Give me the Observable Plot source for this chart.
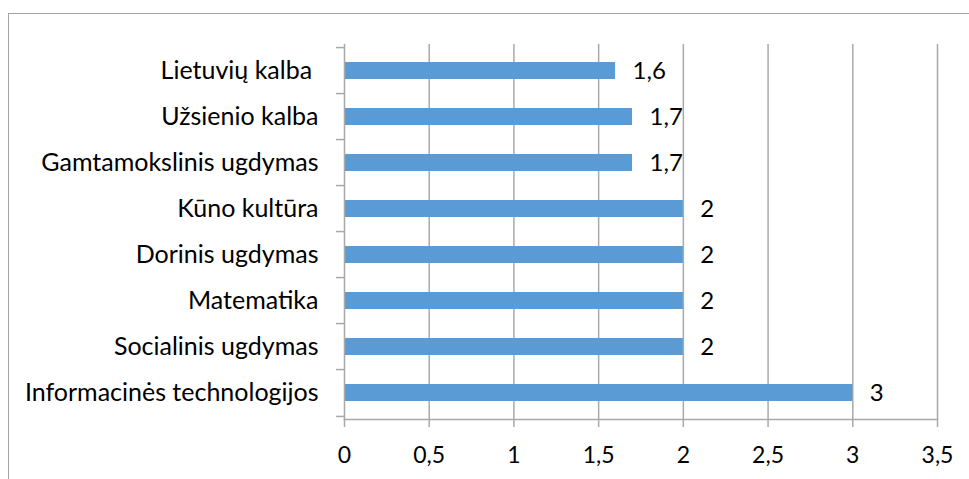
<!DOCTYPE html>
<html>
<head>
<meta charset="utf-8">
<script src="https://cdn.jsdelivr.net/npm/d3@7"></script>
<script src="https://cdn.jsdelivr.net/npm/@observablehq/plot@0.6"></script>
<style>
  html, body { margin: 0; padding: 0; background: #fff; overflow: hidden; }
  #wrap { position: relative; width: 969px; height: 479px; overflow: hidden; }
  #border { position: absolute; left: 8px; top: 13px; width: 1000px; height: 520px; border: 1.5px solid #a3a3a3; box-sizing: border-box; }
  #chart { position: absolute; left: 0; top: 0; }
  #chart text { white-space: pre; }
</style>
</head>
<body>
<div id="wrap"><div id="border"></div><div id="chart"></div></div>
<script>
const categories = [
  "Lietuvių kalba ",
  "Užsienio kalba",
  "Gamtamokslinis ugdymas",
  "Kūno kultūra",
  "Dorinis ugdymas",
  "Matematika",
  "Socialinis ugdymas",
  "Informacinės technologijos"
];
const values = [1.6, 1.7, 1.7, 2, 2, 2, 2, 3];
const xTicks = [0, 0.5, 1, 1.5, 2, 2.5, 3, 3.5];

const data = categories.map((c, i) => ({category: c, value: values[i]}));
const fmt = d => String(d).replace(".", ",");

const W = 969, H = 479;
const mTop = 44, mBottom = 60, mLeft = 344, mRight = 32;
const step = (H - mTop - mBottom) / categories.length;
const gridColor = "#a9a9a9";
const font = "Lato, 'Open Sans', sans-serif";
const fsCat = 25, fsTick = 23, fsVal = 24;

const chart = Plot.plot({
  width: W,
  height: H,
  marginTop: mTop,
  marginBottom: mBottom,
  marginLeft: mLeft,
  marginRight: mRight,
  style: {fontFamily: font, fontSize: fsTick + "px", color: "#000", background: "transparent"},
  x: {domain: [0, 3.5]},
  y: {domain: categories, paddingInner: 0.62, paddingOuter: 0.31},
  marks: [
    Plot.ruleX(xTicks.filter(d => d > 0), {stroke: gridColor, strokeWidth: 1.5}),
    Plot.barX(data, {x: "value", y: "category", fill: "#5b9bd5"}),
    Plot.frame({anchor: "left", stroke: gridColor, strokeWidth: 1.5}),
    Plot.frame({anchor: "bottom", stroke: gridColor, strokeWidth: 1.5}),
    Plot.axisY({ticks: categories, tickSize: 8, tickFormat: null, dy: -step / 2, stroke: gridColor, strokeWidth: 1.5, label: null}),
    Plot.axisY({ticks: categories.slice(-1), tickSize: 8, tickFormat: null, dy: step / 2, stroke: gridColor, strokeWidth: 1.5, label: null}),
    Plot.axisY({tickSize: 0, tickPadding: 26, label: null, fill: "#000", fontSize: fsCat}),
    Plot.axisX({ticks: xTicks, tickSize: 8, tickPadding: 19, tickFormat: fmt, stroke: gridColor, strokeWidth: 1.5, label: null, fill: "#000", fontSize: fsTick}),
    Plot.text(data, {x: "value", y: "category", text: d => fmt(d.value), textAnchor: "start", dx: 17, fill: "#000", fontSize: fsVal})
  ]
});
document.getElementById("chart").appendChild(chart);
</script>
</body>
</html>
